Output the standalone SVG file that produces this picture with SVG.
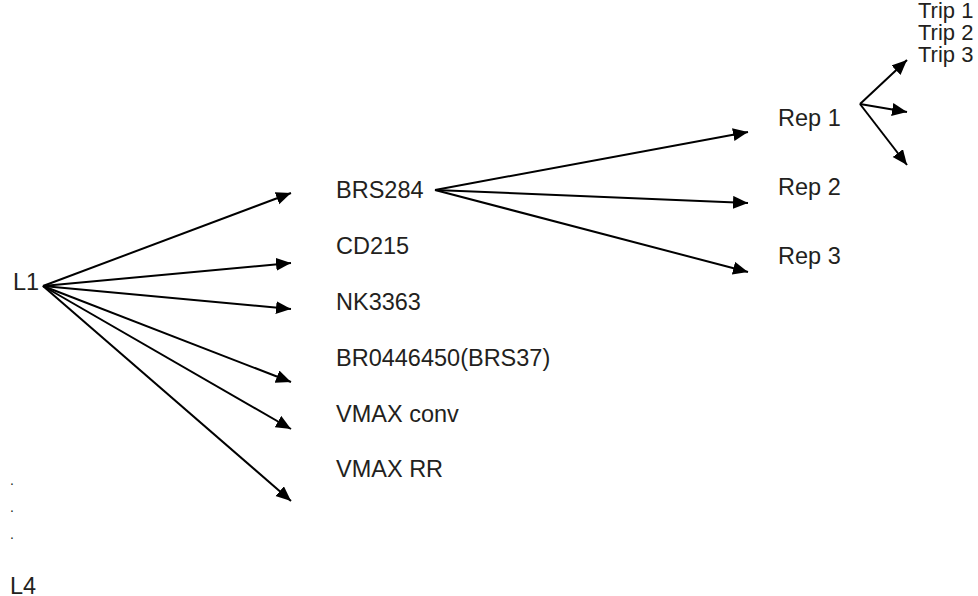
<svg xmlns="http://www.w3.org/2000/svg" width="978" height="596" viewBox="0 0 978 596">
<style>
text{font-family:"Liberation Sans",Arial,sans-serif;font-size:23.5px;fill:#231f20}
.trip{font-size:22px}
.dot{font-size:14px}
.c line{stroke:#000;stroke-width:2;fill:none;marker-end:url(#ah)}
</style>
<defs>
<marker id="ah" markerUnits="userSpaceOnUse" markerWidth="16" markerHeight="14" refX="15" refY="6.5" orient="auto">
<path d="M0,0 L15,6.5 L0,13 z" fill="#000"/>
</marker>
</defs>
<rect width="978" height="596" fill="#fff"/>
<g class="c" id="connectors">
<line x1="43" y1="286" x2="291" y2="193"/>
<line x1="43" y1="286" x2="291" y2="263"/>
<line x1="43" y1="286" x2="291" y2="309"/>
<line x1="43" y1="286" x2="291" y2="382"/>
<line x1="43" y1="286" x2="291" y2="429"/>
<line x1="43" y1="286" x2="291" y2="501"/>
<line x1="435" y1="190" x2="748" y2="132"/>
<line x1="435" y1="190" x2="748" y2="203"/>
<line x1="435" y1="190" x2="748" y2="272"/>
<line x1="860" y1="104" x2="907" y2="60"/>
<line x1="860" y1="104" x2="907" y2="112"/>
<line x1="860" y1="104" x2="907" y2="165"/>
</g>
<g id="L1"><text x="13" y="290">L1</text></g>
<g id="dots"><text class="dot" x="10" y="485">.</text><text class="dot" x="10" y="512">.</text><text class="dot" x="10" y="539">.</text></g>
<g id="L4"><text x="10" y="594">L4</text></g>
<g id="BRS284"><text x="336" y="198">BRS284</text></g>
<g id="CD215"><text x="336" y="254">CD215</text></g>
<g id="NK3363"><text x="336" y="310">NK3363</text></g>
<g id="BR0446450"><text x="336" y="366">BR0446450(BRS37)</text></g>
<g id="VMAXconv"><text x="336" y="422">VMAX conv</text></g>
<g id="VMAXRR"><text x="336" y="477">VMAX RR</text></g>
<g id="Rep1"><text x="778" y="126">Rep 1</text></g>
<g id="Rep2"><text x="778" y="195">Rep 2</text></g>
<g id="Rep3"><text x="778" y="264">Rep 3</text></g>
<g id="Trip1"><text class="trip" x="918" y="18">Trip 1</text></g>
<g id="Trip2"><text class="trip" x="918" y="40">Trip 2</text></g>
<g id="Trip3"><text class="trip" x="918" y="62">Trip 3</text></g>
</svg>
